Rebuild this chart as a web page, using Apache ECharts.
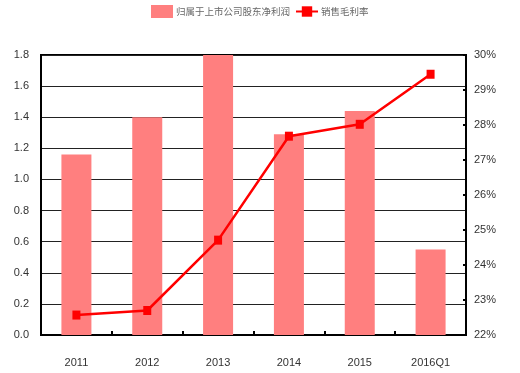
<!DOCTYPE html>
<html><head><meta charset="utf-8">
<script src="https://cdn.jsdelivr.net/npm/echarts@6/dist/echarts.min.js"></script>
<style>html,body{margin:0;padding:0;background:#fff}#c{width:520px;height:373px}</style>
</head><body><div id="c"></div>
<script>
var categories = ['2011','2012','2013','2014','2015','2016Q1'];
var netProfit = [1.16, 1.40, 1.80, 1.29, 1.44, 0.55];
var grossMargin = [22.57, 22.70, 24.71, 27.68, 28.02, 29.45];
var leftTicks = [0,0.2,0.4,0.6,0.8,1.0,1.2,1.4,1.6,1.8];
var rightTicks = [22,23,24,25,26,27,28,29,30];
var FONT = '"Liberation Sans Narrow","Arial Narrow","Liberation Sans",sans-serif';
var chart = echarts.init(document.getElementById('c'));
chart.setOption({
  animation:false,
  legend:{top:0,left:146,itemGap:5,itemWidth:22,itemHeight:13,
    textStyle:{fontFamily:'"Noto Sans CJK SC",sans-serif',fontSize:9.5,color:'#666',padding:[0,0,0,-2]},
    data:[{name:'归属于上市公司股东净利润',icon:'rect'},{name:'销售毛利率'}]},
  grid:{left:41,right:54,top:55,bottom:38,show:true,borderColor:'#000',borderWidth:2,backgroundColor:'#fff'},
  xAxis:{type:'category',data:categories,
    axisLine:{lineStyle:{color:'#000',width:2}},
    axisTick:{show:true,inside:true,length:4,lineStyle:{color:'#000',width:2}},
    axisLabel:{margin:22,fontFamily:FONT,fontSize:11,color:'#333'}},
  yAxis:[
    {type:'value',min:0,max:1.8,interval:0.2,
      axisLine:{show:true,lineStyle:{color:'#000',width:2}},
      axisTick:{show:false},
      splitLine:{lineStyle:{color:'#222',width:1}},
      axisLabel:{margin:12,fontFamily:FONT,fontSize:11,color:'#333',
        formatter:function(v){return v.toFixed(1);}}},
    {type:'value',min:22,max:30,interval:1,
      axisLine:{show:true,lineStyle:{color:'#000',width:2}},
      axisTick:{show:true,inside:true,length:3,lineStyle:{color:'#000',width:2}},
      splitLine:{show:false},
      axisLabel:{margin:8,fontFamily:FONT,fontSize:11,color:'#333',
        formatter:function(v){return v+'%';}}}
  ],
  series:[
    {name:'归属于上市公司股东净利润',type:'bar',data:netProfit,barWidth:30,
      itemStyle:{color:'#ff7f7f'}},
    {name:'销售毛利率',type:'line',yAxisIndex:1,data:grossMargin,
      symbol:'rect',symbolSize:[8,9],
      lineStyle:{color:'#ff0000',width:2.5},itemStyle:{color:'#ff0000'}}
  ]
});
</script></body></html>
